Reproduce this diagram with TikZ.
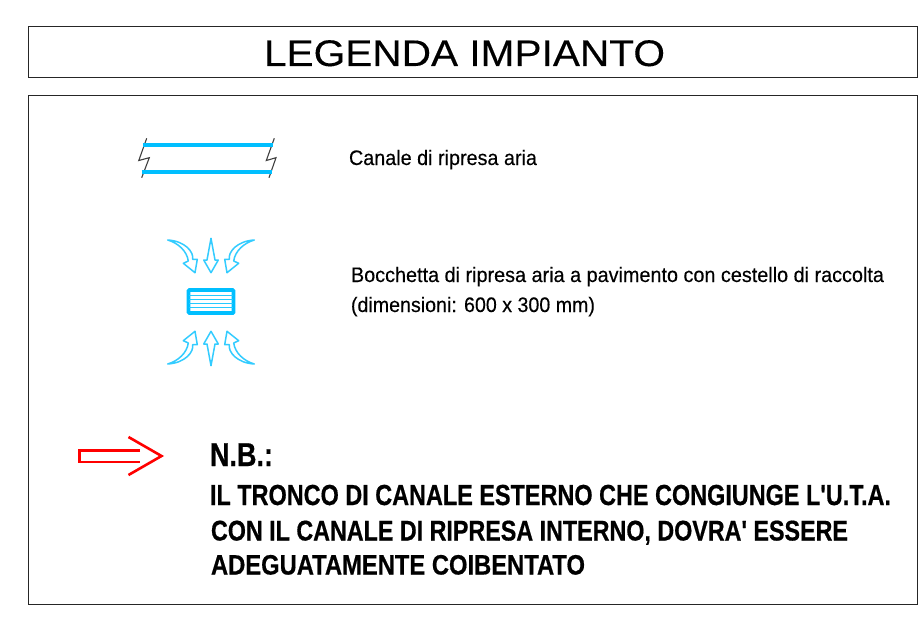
\documentclass[tikz,border=0pt]{standalone}
\usepackage{fontspec}
\usepackage{graphicx}
\setmainfont{Liberation Sans}[Ligatures=TeXOff]
\newfontfamily\regfont{Liberation Sans}[Ligatures=TeXOff,FakeBold=0.25]
\newfontfamily\heavyfont{Liberation Sans Bold}[Ligatures=TeXOff,FakeBold=0.6]
\definecolor{ductblue}{RGB}{0,191,255}
\definecolor{alertred}{RGB}{255,0,0}
\tikzset{
  frame/.style={draw=black!85,line width=0.8pt},
  ductline/.style={draw=ductblue,line width=4pt},
  breakline/.style={draw=black!75,line width=1.1pt},
  airflow/.style={draw=ductblue!80,line width=1.5pt,fill=white,line join=round},
  redline/.style={draw=alertred,line width=2.6pt,line join=miter},
  txt/.style={anchor=base west,inner sep=0pt,outer sep=0pt,text=black}
}
\newcommand{\fitw}[3]{\resizebox{#1pt}{\height}{\fontsize{#2}{#2}\selectfont #3}}
\newcommand{\curvedarrow}{%
  \path[airflow] (167.7,240) .. controls (185,241) and (194,252) .. (192.7,259.3) -- (197.3,259.3) -- (195,272.7) -- (183.3,263.3) -- (188.3,261) .. controls (187,251) and (178,243) .. cycle;}
\newcommand{\straightarrow}{%
  \path[airflow] (211,238.3) -- (215,260) -- (218.3,260) -- (211,272.7) -- (203.7,260) -- (207,260) -- cycle;}
\begin{document}
\begin{tikzpicture}[x=1pt,y=-1pt]
\useasboundingbox (0,0) rectangle (921,618);
\fill[white] (0,0) rectangle (921,618);
\draw[frame] (28,26) rectangle (917,77);
\draw[frame] (28,95) rectangle (917,604);
\node[txt] (title) at (264,66) {\fitw{401}{37}{\regfont LEGENDA IMPIANTO}};
% duct symbol
\draw[breakline] (146.7,138.3) -- (138.8,160.5) -- (149.3,157.7) -- (141.7,177.7);
\draw[breakline] (274.3,138.3) -- (266.3,160.5) -- (276,157.7) -- (269,177.7);
\draw[ductline] (143.3,145) -- (273.3,145);
\draw[ductline] (141.7,172.3) -- (271.7,172.3);
\node[txt] (t1) at (349,165) {\fitw{188}{21}{\regfont Canale di ripresa aria}};
% grille symbol
\curvedarrow
\begin{scope}[xshift=422pt,xscale=-1]\curvedarrow\end{scope}
\straightarrow
\begin{scope}[yshift=-604pt,yscale=-1]
\curvedarrow
\begin{scope}[xshift=422pt,xscale=-1]\curvedarrow\end{scope}
\straightarrow
\end{scope}
\draw[draw=ductblue,line width=3.6pt,rounded corners=0.8pt] (188.5,290) rectangle (233.5,313);
\foreach \yy in {295.5,299.5,303.5,307.5}{\draw[ductblue!85,line width=1.4pt] (189,\yy) -- (233,\yy);}
\node[txt] (t2) at (351,282) {\fitw{533}{21}{\regfont Bocchetta di ripresa aria a pavimento con cestello di raccolta}};
\node[txt] (t3) at (351,312) {\fitw{244}{21}{\regfont (dimensioni: 600 x 300 mm)}};
% red arrow
\draw[redline] (140,450.5) -- (79.5,450.5) -- (79.5,462) -- (140,462);
\draw[redline] (128.5,437) -- (161.5,456) -- (128.5,475);
\node[txt] (nb) at (210,466) {\fitw{63}{33}{\heavyfont N.B.:}};
\node[txt] (b1) at (210,505) {\fitw{681}{29}{\heavyfont IL TRONCO DI CANALE ESTERNO CHE CONGIUNGE L'U.T.A.}};
\node[txt] (b2) at (211,540.5) {\fitw{637}{28.5}{\heavyfont CON IL CANALE DI RIPRESA INTERNO, DOVRA' ESSERE}};
\node[txt] (b3) at (211,574.5) {\fitw{374}{28}{\heavyfont ADEGUATAMENTE COIBENTATO}};
\end{tikzpicture}
\end{document}
